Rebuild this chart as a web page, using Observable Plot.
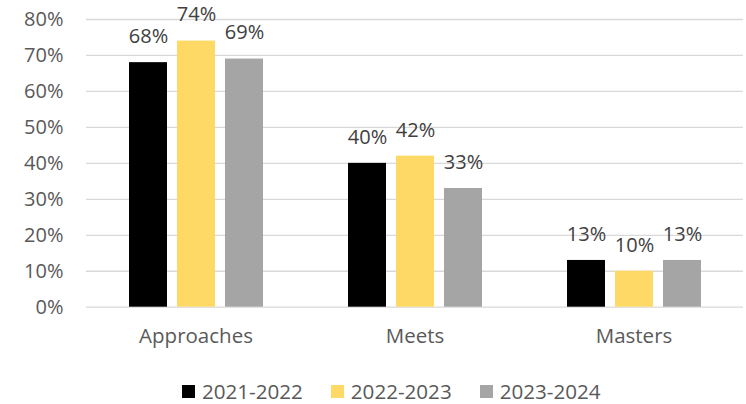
<!DOCTYPE html>
<html><head><meta charset="utf-8">
<script src="https://cdn.jsdelivr.net/npm/d3@7"></script>
<script src="https://cdn.jsdelivr.net/npm/@observablehq/plot@0.6"></script>
<style>
body{margin:0;background:#fff;font-family:"Open Sans",sans-serif;}
#legend{display:flex;align-items:center;height:26px;padding-top:12px;padding-left:182px;gap:28px;color:#595959;font-size:20.6px;}
#legend .item{display:flex;align-items:center;}
#legend .sw{width:13px;height:13px;margin-right:7px;}
</style></head><body><div id="chart"></div><div id="legend"></div><script>
const categories = ["Approaches", "Meets", "Masters"];
const years = ["2021-2022", "2022-2023", "2023-2024"];
const colors = ["#000000", "#FFD966", "#A5A5A5"];
const approaches = [0.68, 0.74, 0.69];
const meets = [0.40, 0.42, 0.33];
const masters = [0.13, 0.10, 0.13];
const yTicks = [0, 0.1, 0.2, 0.3, 0.4, 0.5, 0.6, 0.7, 0.8];

const seriesByCat = [approaches, meets, masters];
const data = [];
categories.forEach((c, i) => years.forEach((y, j) => data.push({cat: c, year: y, value: seriesByCat[i][j]})));
const pct = d3.format(".0%");

const chart = Plot.plot({
  width: 746, height: 366,
  marginLeft: 86, marginRight: 3, marginTop: 19, marginBottom: 59.3,
  style: {fontFamily: "Open Sans, sans-serif", fontSize: "20px", color: "#595959", background: "#fff"},
  fx: {domain: categories, padding: 0, label: null},
  x: {domain: years, paddingInner: 0.21, paddingOuter: 0.86, axis: null},
  y: {domain: [0, 0.8], axis: null},
  color: {domain: years, range: colors},
  marks: [
    Plot.gridY(yTicks, {stroke: "#d9d9d9", strokeOpacity: 1, strokeWidth: 1.3}),
    Plot.axisY(yTicks, {tickSize: 0, tickPadding: 23, tickFormat: pct, fontSize: 20, label: null}),
    Plot.axisFx({anchor: "bottom", tickSize: 0, tickPadding: 21, fontSize: 20.5, label: null}),
    Plot.barY(data, {fx: "cat", x: "year", y: "value", fill: "year"}),
    Plot.text(data, {fx: "cat", x: "year", y: "value", text: d => pct(d.value), dy: -26, fontSize: 20, fill: "#404040"})
  ]
});
document.getElementById("chart").appendChild(chart);

const legend = document.getElementById("legend");
years.forEach((y, i) => {
  const item = document.createElement("div");
  item.className = "item";
  const sw = document.createElement("div");
  sw.className = "sw";
  sw.style.background = colors[i];
  const t = document.createElement("span");
  t.textContent = y;
  item.appendChild(sw); item.appendChild(t);
  legend.appendChild(item);
});
</script></body></html>
